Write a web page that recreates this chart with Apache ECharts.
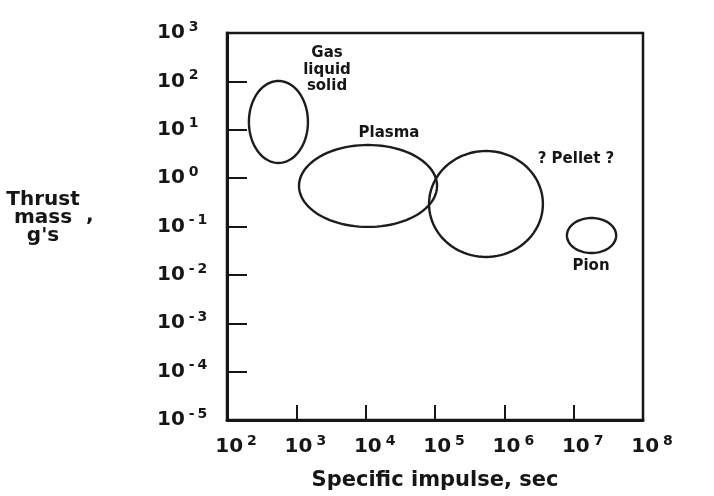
<!DOCTYPE html>
<html>
<head>
<meta charset="utf-8">
<script src="https://cdn.jsdelivr.net/npm/echarts@6/dist/echarts.min.js"></script>
<style>
  html, body { margin: 0; padding: 0; background: #ffffff; }
  #chart { width: 714px; height: 496px; }
</style>
</head>
<body>
<div id="chart"></div>
<script>
// Tick label exponents (powers of ten)
var xTickExponents = [2, 3, 4, 5, 6, 7, 8];
var yTickExponents = [-5, -4, -3, -2, -1, 0, 1, 2, 3];

// Regions (ellipses): bounding box in data units
var regionNames = ['Gas liquid solid', 'Plasma', 'Pellet', 'Pion'];
var ispMin = [207, 1093, 82000, 8.0e6];
var ispMax = [1470, 107000, 3.6e6, 4.1e7];
var thrustMin = [2.06, 0.098, 0.0235, 0.0283];
var thrustMax = [102, 4.84, 3.64, 0.15];

// Region labels
var labelTexts = ['Gas\nliquid\nsolid', 'Plasma', '? Pellet ?', 'Pion'];
var labelIsp = [2770, 21700, 1.08e7, 1.78e7];
var labelThrust = [172, 8.57, 2.48, 0.0152];

var FONT = 'DejaVu Sans';
var INK = '#161616';

function expOf(v) { return Math.round(Math.log(v) / Math.LN10); }
function supLabel(v, list) {
  var e = expOf(v);
  if (list.indexOf(e) < 0) return '';
  return '{b|10}{s|' + (e < 0 ? '-\u2009' + (-e) : e) + '}';
}
var richDef = {
  b: { fontFamily: FONT, fontWeight: 'bold', fontSize: 20, lineHeight: 26, color: INK },
  s: { fontFamily: FONT, fontWeight: 'bold', fontSize: 14, lineHeight: 14, verticalAlign: 'top', color: INK, padding: [0, 0, 0, 4] }
};

var ellipseData = regionNames.map(function (n, i) {
  return { name: n, value: [ispMin[i], ispMax[i], thrustMin[i], thrustMax[i]] };
});
var labelData = labelTexts.map(function (t, i) {
  return { name: t, value: [labelIsp[i], labelThrust[i]] };
});

var chart = echarts.init(document.getElementById('chart'), null, { renderer: 'canvas' });
chart.setOption({
  backgroundColor: '#ffffff',
  animation: false,
  grid: {
    left: 227, right: 71, top: 33, bottom: 76,
    show: true, borderColor: INK, borderWidth: 2.5, backgroundColor: 'transparent'
  },
  xAxis: {
    type: 'log', logBase: 10, min: 100, max: 1e8, splitNumber: 6,
    name: 'Specific impulse, sec', nameLocation: 'middle', nameGap: 50,
    nameTextStyle: { fontFamily: FONT, fontWeight: 'bold', fontSize: 21, color: INK },
    axisLine: { show: true, lineStyle: { color: INK, width: 3 } },
    axisTick: { show: true, inside: true, length: 15, lineStyle: { color: INK, width: 2 } },
    splitLine: { show: false },
    minorTick: { show: false },
    axisLabel: {
      margin: 14, padding: [0, 0, 0, 18],
      formatter: function (v) { return supLabel(v, xTickExponents); },
      rich: richDef
    }
  },
  yAxis: {
    type: 'log', logBase: 10, min: 1e-5, max: 1e3, splitNumber: 8,
    name: 'Thrust\nmass\ng\'s\n ', nameLocation: 'middle', nameGap: 184, nameRotate: 0,
    nameTextStyle: { fontFamily: FONT, fontWeight: 'bold', fontSize: 20, lineHeight: 18, color: INK, align: 'center', verticalAlign: 'middle' },
    axisLine: { show: true, lineStyle: { color: INK, width: 3 } },
    axisTick: { show: true, inside: true, length: 20, lineStyle: { color: INK, width: 2 } },
    splitLine: { show: false },
    minorTick: { show: false },
    axisLabel: {
      margin: 70, align: 'left',
      formatter: function (v) { return supLabel(v, yTickExponents); },
      rich: richDef
    }
  },
  graphic: [{
    type: 'text', left: 86, top: 206,
    style: { text: ',', font: 'bold 20px "DejaVu Sans"', fill: INK }
  }],
  series: [{
    type: 'custom',
    name: 'regions',
    encode: { x: [0, 1], y: [2, 3] },
    data: ellipseData,
    renderItem: function (params, api) {
      var p0 = api.coord([api.value(0), api.value(2)]);
      var p1 = api.coord([api.value(1), api.value(3)]);
      var cx = (p0[0] + p1[0]) / 2, cy = (p0[1] + p1[1]) / 2;
      var rx = Math.abs(p1[0] - p0[0]) / 2, ry = Math.abs(p1[1] - p0[1]) / 2;
      var pts = [];
      for (var k = 0; k < 96; k++) {
        var t = k / 96 * Math.PI * 2;
        pts.push([cx + rx * Math.cos(t), cy + ry * Math.sin(t)]);
      }
      return {
        type: 'polygon',
        shape: { points: pts },
        style: { fill: 'none', stroke: '#1c1c1c', lineWidth: 2.4 }
      };
    }
  }, {
    type: 'scatter',
    name: 'labels',
    symbolSize: 0,
    itemStyle: { opacity: 1 },
    data: labelData,
    label: {
      show: true, position: 'inside',
      formatter: function (p) { return p.name; },
      fontFamily: FONT, fontWeight: 'bold', fontSize: 15, lineHeight: 16.5, color: INK, align: 'center', opacity: 1
    }
  }]
});
</script>
</body>
</html>
